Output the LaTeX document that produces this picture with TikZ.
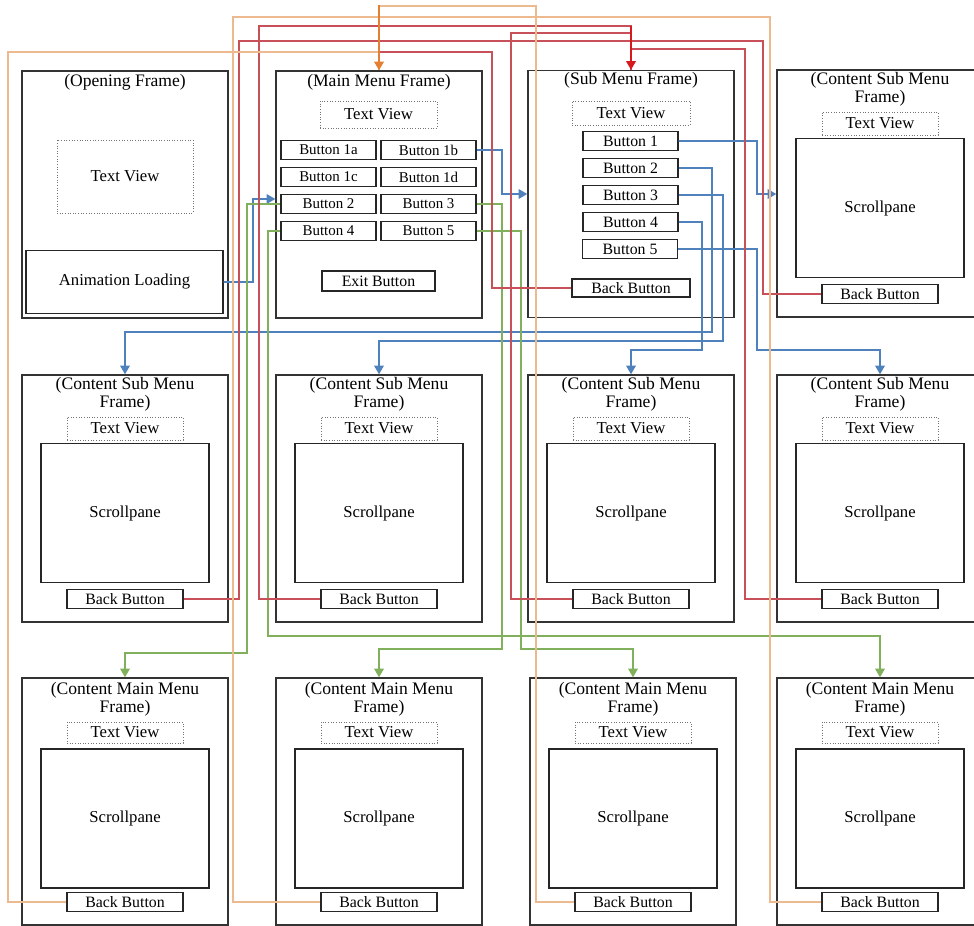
\documentclass[tikz,border=0pt]{standalone}
\usepackage{fontspec}
\setmainfont{Liberation Serif}
\usetikzlibrary{positioning, arrows.meta, calc}

\definecolor{lnblue}{RGB}{79,129,189}
\definecolor{lnred}{RGB}{200,80,88}
\definecolor{lnorange}{RGB}{236,186,142}
\definecolor{lngreen}{RGB}{128,176,92}
\definecolor{arred}{RGB}{215,25,30}
\definecolor{arorange}{RGB}{228,128,52}

\begin{document}
\begin{tikzpicture}[x=0.02cm, y=-0.02cm, >={Triangle[length=5pt,width=5.5pt]},
    winframe/.style={draw=black!80, line width=0.8pt, minimum width=4.12cm, minimum height=4.94cm, inner sep=0pt},
    ttl/.style={align=center, font=\fontsize{10}{10.5}\selectfont, inner sep=0pt},
    tview/.style={draw=black!55, densely dotted, line width=0.5pt, minimum width=2.32cm, minimum height=0.46cm, inner sep=0pt, font=\fontsize{9.5}{11}\selectfont},
    btn/.style={draw=black!85, line width=0.7pt, minimum width=1.9cm, minimum height=0.38cm, inner sep=0pt, font=\fontsize{8.5}{10}\selectfont},
    backbtn/.style={btn, minimum width=2.32cm, font=\fontsize{9}{10}\selectfont},
    pane/.style={draw=black!85, line width=0.7pt, minimum width=3.36cm, minimum height=2.78cm, inner sep=0pt, font=\fontsize{9.5}{11}\selectfont},
    blueln/.style={draw=lnblue, line width=0.9pt},
    greenln/.style={draw=lngreen, line width=0.9pt},
    redln/.style={draw=lnred, line width=0.9pt},
    orangeln/.style={draw=lnorange, line width=0.9pt},
    redarrow/.style={draw=arred, fill=arred, line width=1pt},
    orangearrow/.style={draw=arorange, fill=arorange, line width=1pt}]

    \useasboundingbox (0,0) rectangle (974,926);
    \clip (0,0) rectangle (974,926);

    % --- Opening Frame ---
    \node[winframe] (opf) at (125,194.5) {};
    \node[ttl] (opttl) at (125,82) {(Opening Frame)};
    \node[tview, minimum width=2.72cm, minimum height=1.46cm] (optv) at (125,176.5) {Text View};
    \node[btn, minimum width=3.94cm, minimum height=1.26cm, font=\fontsize{9.5}{11}\selectfont] (opanim) at (124.5,282) {Animation Loading};

    % --- Main Menu Frame ---
    \node[winframe] (mmf) at (379,194.5) {};
    \node[ttl] (mmttl) at (379,82) {(Main Menu Frame)};
    \node[tview, minimum width=2.34cm, minimum height=0.54cm] (mmtv) at (378.5,114.5) {Text View};
    \node[btn] (b1a) at (328.5,150) {Button 1a};
    \node[btn] (b1b) at (428.5,150) {Button 1b};
    \node[btn] (b1c) at (328.5,177) {Button 1c};
    \node[btn] (b1d) at (428.5,177) {Button 1d};
    \node[btn] (b2) at (328.5,204) {Button 2};
    \node[btn] (b3) at (428.5,204) {Button 3};
    \node[btn] (b4) at (328.5,231) {Button 4};
    \node[btn] (b5) at (428.5,231) {Button 5};
    \node[btn, minimum width=2.26cm, minimum height=0.4cm, font=\fontsize{9}{10}\selectfont] (mmexit) at (378.5,281) {Exit Button};

    % --- Sub Menu Frame ---
    \node[winframe] (smf) at (631,194) {};
    \node[ttl] (smttl) at (631,80) {(Sub Menu Frame)};
    \node[tview, minimum width=2.36cm, minimum height=0.48cm] (smtv) at (631,113) {Text View};
    \node[btn, font=\fontsize{9}{10}\selectfont] (sb1) at (630.5,141) {Button 1};
    \node[btn, font=\fontsize{9}{10}\selectfont] (sb2) at (630.5,168) {Button 2};
    \node[btn, font=\fontsize{9}{10}\selectfont] (sb3) at (630.5,195) {Button 3};
    \node[btn, font=\fontsize{9}{10}\selectfont] (sb4) at (630.5,222) {Button 4};
    \node[btn, font=\fontsize{9}{10}\selectfont] (sb5) at (630,249) {Button 5};
    \node[backbtn, minimum width=2.36cm, minimum height=0.36cm] (smback) at (631,288) {Back Button};

    % --- Content Sub Menu Frames ---
    \foreach \nm/\cx/\ty in {csm0/880/70, csm1/125/375, csm2/379/375, csm3/631/375, csm4/880/375} {
      \node[winframe] (\nm) at (\cx,\ty+123.5) {};
      \node[ttl] (\nm-ttl) at (\cx,\ty+19) {(Content Sub Menu\\Frame)};
      \node[tview] (\nm-tv) at (\cx,\ty+53.5) {Text View};
      \node[pane] (\nm-sp) at (\cx,\ty+138) {Scrollpane};
      \node[backbtn] (\nm-bk) at (\cx,\ty+224) {Back Button};
    }

    % --- Content Main Menu Frames ---
    \foreach \nm/\cx in {cmm1/125, cmm2/379, cmm3/633, cmm4/880} {
      \node[winframe] (\nm) at (\cx,801.5) {};
      \node[ttl] (\nm-ttl) at (\cx,699) {(Content Main Menu\\Frame)};
      \node[tview, minimum height=0.42cm] (\nm-tv) at (\cx,732.5) {Text View};
      \node[pane] (\nm-sp) at (\cx,818.5) {Scrollpane};
      \node[backbtn] (\nm-bk) at (\cx,902) {Back Button};
    }

    % --- blue: into sub menus and content sub menus ---
    \draw[blueln, ->] (opanim.east) -| (253,199) -- ($(mmf.west)+(0,4.5)$);
    \draw[blueln, ->] (b1b.east) -| (502,194) -- (smf.west);
    \draw[blueln, ->] (sb1.east) -| (757,194) -- ($(csm0.west)+(0,0.5)$);
    \draw[blueln, ->] (sb2.east) -| (712,332) -| (csm1.north);
    \draw[blueln, ->] (sb3.east) -| (723,341) -| (csm2.north);
    \draw[blueln, ->] (sb4.east) -| (702,350) -| (csm3.north);
    \draw[blueln, ->] (sb5.east) -| (757,350) -| (csm4.north);

    % --- green: main menu buttons to content main menus ---
    \draw[greenln, ->] (b2.west) -| (247,653) -| (cmm1.north);
    \draw[greenln, ->] (b3.east) -| (502,649) -| (cmm2.north);
    \draw[greenln, ->] (b5.east) -| (521,649) -| (cmm3.north);
    \draw[greenln, ->] (b4.west) -| (268,636) -| (cmm4.north);

    % --- red: back to sub menu (and sub menu back to main) ---
    \draw[redln] (csm1-bk.east) -| (239,41) -| (smf.north);
    \draw[redln] (csm2-bk.west) -| (259,26) -| (smf.north);
    \draw[redln] (csm3-bk.west) -| (511,33) -| (smf.north);
    \draw[redln] (csm4-bk.west) -| (745,49) -| (smf.north);
    \draw[redln] (csm0-bk.west) -| (763,41) -| (smf.north);
    \draw[redln] (smback.west) -| (492,52) -| (mmf.north);
    \draw[redarrow, ->] ($(smf.north)+(0,-44)$) -- (smf.north);

    % --- orange: back to main menu ---
    \draw[orangeln] (cmm1-bk.west) -| (8,52) -| (mmf.north);
    \draw[orangeln] (cmm2-bk.west) -| (233,17) -| (mmf.north);
    \draw[orangeln] (cmm3-bk.west) -| (536,6) -| (mmf.north);
    \draw[orangeln] (cmm4-bk.west) -| (770,17) -| (mmf.north);
    \draw[orangearrow, ->] ($(mmf.north)+(0,-65)$) -- (mmf.north);

\end{tikzpicture}
\end{document}
